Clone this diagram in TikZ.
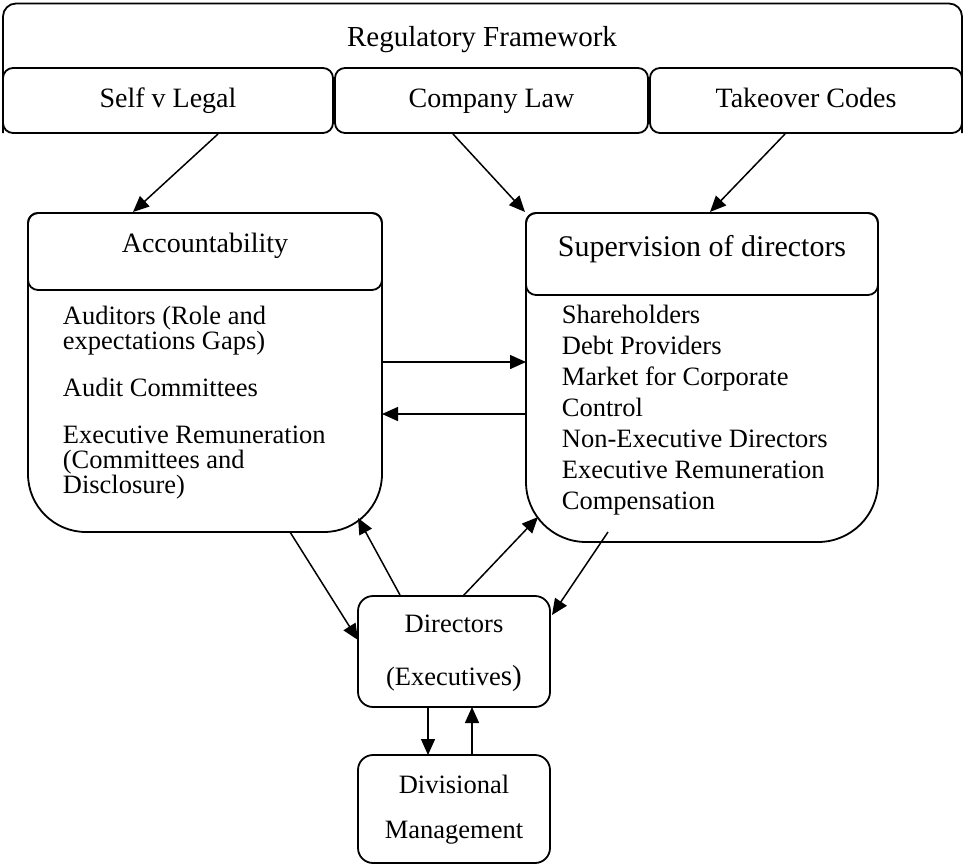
\documentclass[tikz,border=0pt]{standalone}
\usepackage{fontspec}
\setmainfont{Liberation Serif}
\usetikzlibrary{arrows.meta}

\begin{document}
\begin{tikzpicture}[x=1pt,y=-1pt,
  boxline/.style={draw=black, line width=1.8pt},
  subbox/.style={boxline, rounded corners=10pt, inner sep=0pt},
  arr/.style={line width=1.5pt, -{Triangle[length=16pt,width=14pt]}},
  head/.style={font=\fontsize{28}{30}\selectfont, inner sep=0pt, anchor=base},
  body/.style={font=\fontsize{26.5}{28}\selectfont, inner sep=0pt, anchor=base west},
]
\useasboundingbox (0,0) rectangle (963,865);

% Regulatory framework and its three parts
\draw[boxline, rounded corners=13pt] (3,133) -- (3,3.5) -- (962,3.5) -- (962,133);
\node[subbox, minimum width=330pt, minimum height=65pt] (self) at (168,100.5) {};
\node[subbox, minimum width=313pt, minimum height=65pt] (law) at (491.5,100.5) {};
\node[subbox, minimum width=312pt, minimum height=65pt] (take) at (806,100.5) {};
\node[head, font=\fontsize{29}{30}\selectfont] (reg) at (482,46.7) {Regulatory Framework};
\node[head] (selft) at (168,107) {Self v Legal};
\node[head] (lawt) at (491.5,107) {Company Law};
\node[head] (taket) at (806,107) {Takeover Codes};

% Accountability box
\draw[boxline] (205,213) [rounded corners=10pt] -- (382,213) -- (382,400)
  [rounded corners=58pt] -- (382,532) -- (28,532) -- (28,400)
  [rounded corners=10pt] -- (28,213) -- cycle;
\node[subbox, minimum width=354pt, minimum height=77pt] (acchead) at (205,251.5) {};
\node[head] (acct) at (205,252.7) {Accountability};
\foreach \yy/\t [count=\i] in {
  324.3/{Auditors (Role and},
  349.3/{expectations Gaps)},
  396.7/{Audit Committees},
  443.5/{Executive Remuneration},
  468.5/{(Committees and},
  493.5/{Disclosure)}}
  \node[body] (acc\i) at (62.7,\yy) {\t};

% Supervision box
\draw[boxline] (702,213) [rounded corners=10pt] -- (878,213) -- (878,400)
  [rounded corners=60pt] -- (878,542) -- (526,542) -- (526,400)
  [rounded corners=10pt] -- (526,213) -- cycle;
\node[subbox, minimum width=352pt, minimum height=82pt] (suphead) at (702,254) {};
\node[head, font=\fontsize{30}{32}\selectfont] (supt) at (702,256) {Supervision of directors};
\foreach \t [count=\i] in {
  Shareholders, Debt Providers, Market for Corporate, Control,
  Non-Executive Directors, Executive Remuneration, Compensation}
  \node[body] (sup\i) at (561.7,{323.3+30.95*(\i-1)}) {\t};

% Directors and divisional management
\node[subbox, rounded corners=15pt, minimum width=192pt, minimum height=111pt] (dir) at (454,651.5) {};
\node[head, font=\fontsize{26.5}{28}\selectfont] (dir1) at (454,632.7) {Directors};
\node[head, font=\fontsize{26.5}{28}\selectfont] (dir2) at (454,685) {(Executive{\fontsize{29}{30}\selectfont s)}};
\node[subbox, rounded corners=15pt, minimum width=192pt, minimum height=108pt] (div) at (454,809) {};
\node[head, font=\fontsize{26.5}{28}\selectfont] (div1) at (454,793.3) {Divisional};
\node[head, font=\fontsize{26.5}{28}\selectfont] (div2) at (454,838.3) {Management};

% connector end points
\coordinate (s1) at (218,134);  \coordinate (e1) at (133,212);
\coordinate (s2) at (453,134);  \coordinate (e2) at (525,212);
\coordinate (s3) at (785,134);  \coordinate (e3) at (710,212);
\coordinate (s4) at (382,362);  \coordinate (e4) at (526,362);
\coordinate (s5) at (526,414);  \coordinate (e5) at (382,414);
\coordinate (s6) at (290,532);  \coordinate (e6) at (358,640);
\coordinate (s7) at (400,595);  \coordinate (e7) at (358,518);
\coordinate (s8) at (463,596);  \coordinate (e8) at (538,517);
\coordinate (s9) at (608,532);  \coordinate (e9) at (552,615);
\coordinate (s10) at (428,707); \coordinate (e10) at (428,755);
\coordinate (s11) at (472,755); \coordinate (e11) at (472,707);

\foreach \k in {1,...,11}
  \draw[arr] (s\k) -- (e\k);
\end{tikzpicture}
\end{document}
